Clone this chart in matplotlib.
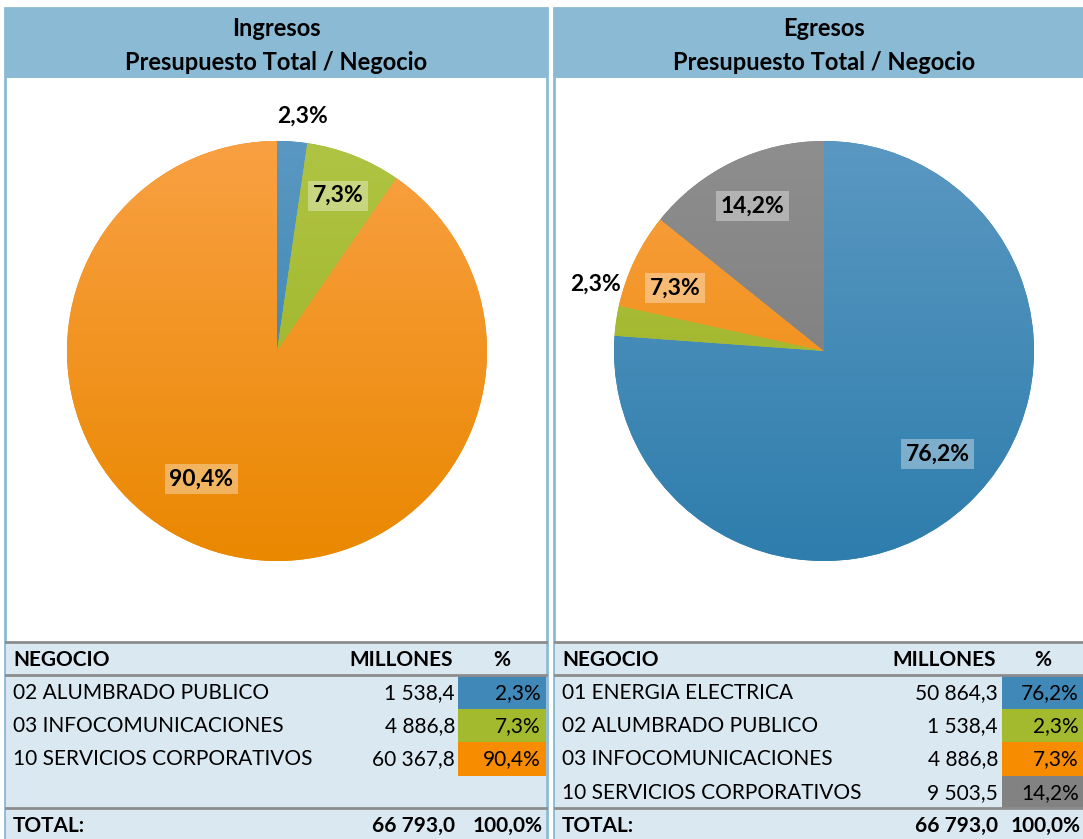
import numpy as np
import matplotlib.pyplot as plt
from matplotlib.patches import Rectangle
from matplotlib.colors import LinearSegmentedColormap

plt.rcParams['font.family'] = ['Lato', 'DejaVu Sans']

# data
ing_negocios = ['02 ALUMBRADO PUBLICO', '03 INFOCOMUNICACIONES', '10 SERVICIOS CORPORATIVOS']
ing_millones = [1538.4, 4886.8, 60367.8]
egr_negocios = ['01 ENERGIA ELECTRICA', '02 ALUMBRADO PUBLICO', '03 INFOCOMUNICACIONES',
                '10 SERVICIOS CORPORATIVOS']
egr_millones = [50864.3, 1538.4, 4886.8, 9503.5]
total_millones = 66793.0

# (top, bottom) gradient colours for wedges
pie_grad = [('#5A98C2', '#2E7DAC'), ('#B0C444', '#98AE1C'),
            ('#F9A043', '#EA8800'), ('#8E8E8E', '#777777')]
cell_colors = ['#4088B8', '#A4BA2E', '#F78C00', '#828282']
head_color = '#8BBAD5'
table_bg = '#DAE8F1'
line_gray = '#8C8C8C'

# label positions inside pie axes (units of radius)
ing_lbl_pos = [(0.12, 1.12), (0.29, 0.74), (-0.36, -0.61)]
egr_lbl_pos = [(0.54, -0.49), (-1.09, 0.32), (-0.71, 0.30), (-0.34, 0.69)]
ing_lbl_box = [False, True, True]
egr_lbl_box = [True, False, True, True]


def fmt_num(v):
    s = f'{v:,.1f}'
    return s.replace(',', ' ').replace('.', ',')


def fmt_pct(v):
    return f'{v:.1f}%'.replace('.', ',')


W, H = 1083, 839
fig = plt.figure(figsize=(W / 100, H / 100), dpi=100)
bg = fig.add_axes([0, 0, 1, 1])
bg.set_xlim(0, W)
bg.set_ylim(H, 0)
bg.axis('off')

grad = np.linspace(1, 0, 256).reshape(-1, 1)


def panel(x0, x1, num_r, cell_l, cell_r, title, negocios, millones, lbl_pos, lbl_box, cx):
    # borders + header
    bg.add_patch(Rectangle((x0, 8), x1 - x0, H, facecolor='white', edgecolor=head_color, lw=2))
    bg.add_patch(Rectangle((x0, 8), x1 - x0, 70, facecolor=head_color, edgecolor='none'))
    mid = (x0 + x1) / 2 if x1 < W else (x0 + 1094) / 2
    bg.text(mid, 28, title, ha='center', va='center', fontsize=17, fontweight='bold')
    bg.text(mid, 62, 'Presupuesto Total / Negocio', ha='center', va='center',
            fontsize=17, fontweight='bold')

    # table
    bg.add_patch(Rectangle((x0 + 1, 642), x1 - x0 - 2, H - 642, facecolor=table_bg, edgecolor='none'))
    for y in (642, 675, 808):
        bg.plot([x0 + 1, x1 - 1], [y, y], color=line_gray, lw=2)
    pct = [m / total_millones * 100 for m in millones]
    pc_r = cell_r - 5
    fs = 15
    bg.text(x0 + 8, 660, 'NEGOCIO', ha='left', va='center', fontsize=fs, fontweight='bold')
    bg.text(num_r - 2, 660, 'MILLONES', ha='right', va='center', fontsize=fs, fontweight='bold')
    bg.text((cell_l + cell_r) / 2, 660, '%', ha='center', va='center', fontsize=fs, fontweight='bold')
    for i, (n, m, p) in enumerate(zip(negocios, millones, pct)):
        y0 = 676 + i * 33.2
        bg.add_patch(Rectangle((cell_l, y0), cell_r - cell_l, 33.2,
                               facecolor=cell_colors[i], edgecolor='none'))
        yc = y0 + 17
        bg.text(x0 + 8, yc, n, ha='left', va='center', fontsize=fs)
        bg.text(num_r, yc, fmt_num(m), ha='right', va='center', fontsize=fs)
        bg.text(pc_r, yc, fmt_pct(p), ha='right', va='center', fontsize=fs)
    bg.text(x0 + 8, 826, 'TOTAL:', ha='left', va='center', fontsize=fs, fontweight='bold')
    bg.text(num_r, 826, fmt_num(total_millones), ha='right', va='center', fontsize=fs, fontweight='bold')
    bg.text(pc_r + 2, 826, fmt_pct(sum(pct)), ha='right', va='center', fontsize=fs, fontweight='bold')

    # pie
    r = 210
    cy = 351
    ax = fig.add_axes([(cx - r) / W, (H - cy - r) / H, 2 * r / W, 2 * r / H])
    wedges, _ = ax.pie(millones, colors=[g[1] for g in pie_grad[:len(millones)]],
                       startangle=90, counterclock=False, radius=1,
                       wedgeprops=dict(linewidth=0))
    for w, (top, bot) in zip(wedges, pie_grad):
        cmap = LinearSegmentedColormap.from_list('g', [bot, top])
        im = ax.imshow(grad, cmap=cmap, extent=(-1, 1, -1, 1), aspect='auto',
                       vmin=0, vmax=1, zorder=w.get_zorder() + 0.1)
        im.set_clip_path(w)
    ax.set_xlim(-1, 1)
    ax.set_ylim(-1, 1)
    ax.axis('off')
    for (lx, ly), p, boxed in zip(lbl_pos, pct, lbl_box):
        box = dict(boxstyle='square,pad=0.2', facecolor='white', alpha=0.35, edgecolor='none') if boxed else None
        ax.text(lx, ly, fmt_pct(p), ha='center', va='center', fontsize=16.5,
                fontweight='bold', bbox=box, clip_on=False, zorder=5)


panel(5, 547, 455, 458, 546, 'Ingresos', ing_negocios, ing_millones,
      ing_lbl_pos, ing_lbl_box, 277)
panel(554, 1100, 998, 1002, 1084, 'Egresos', egr_negocios, egr_millones,
      egr_lbl_pos, egr_lbl_box, 824)

fig.savefig('out.png', dpi=100)
